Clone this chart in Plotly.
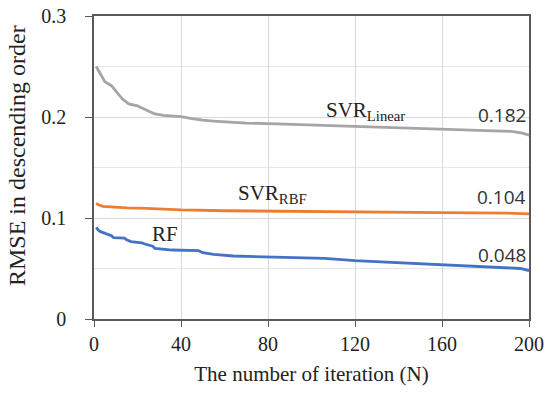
import plotly.graph_objects as go

# SVR Linear
x_lin = [1, 3, 5, 8, 10, 13, 16, 20, 22, 25, 28, 32, 36, 40, 45, 50, 55, 60, 64, 70, 84, 100, 120, 140, 160, 180, 192, 197, 199, 200]
y_lin = [0.250, 0.243, 0.235, 0.231, 0.226, 0.218, 0.213, 0.211, 0.209, 0.206, 0.203, 0.2015, 0.2010, 0.2003, 0.1985, 0.1968, 0.1960, 0.1952, 0.1944, 0.1940, 0.1932, 0.1922, 0.1910, 0.1895, 0.1880, 0.1868, 0.1858, 0.1840, 0.1830, 0.182]
# SVR RBF
x_rbf = [1, 2, 4, 8, 15, 24, 40, 60, 84, 120, 160, 190, 200]
y_rbf = [0.1146, 0.113, 0.1115, 0.1108, 0.1100, 0.1095, 0.1080, 0.1072, 0.1069, 0.1058, 0.1053, 0.1048, 0.104]
# RF
x_rf = [1, 2, 3, 5, 8, 9, 14, 15, 17, 22, 23, 27, 28, 36, 48, 50, 55, 64, 83, 100, 106, 120, 138, 160, 175, 191, 196, 200]
y_rf = [0.0908, 0.0880, 0.0865, 0.0850, 0.0825, 0.0805, 0.0800, 0.0785, 0.0766, 0.0755, 0.0745, 0.0720, 0.0700, 0.0683, 0.0678, 0.0657, 0.0640, 0.0624, 0.0611, 0.0605, 0.0600, 0.0577, 0.0560, 0.0535, 0.0523, 0.0512, 0.0500, 0.048]

x_ticks = [0, 40, 80, 120, 160, 200]
y_ticks = [0, 0.1, 0.2, 0.3]
y_tick_text = ["0", "0.1", "0.2", "0.3"]

fig = go.Figure()
fig.add_trace(go.Scatter(x=x_lin, y=y_lin, mode="lines", line=dict(color="#a5a5a5", width=2.8), showlegend=False))
fig.add_trace(go.Scatter(x=x_rbf, y=y_rbf, mode="lines", line=dict(color="#ed7d31", width=2.8), showlegend=False))
fig.add_trace(go.Scatter(x=x_rf, y=y_rf, mode="lines", line=dict(color="#4472c4", width=2.8), showlegend=False))

serif = "Liberation Serif"
sans = "Open Sans"
ann = [
    dict(x=125, y=0.2055, text="SVR<sub>Linear</sub>", font=dict(family=serif, size=21, color="#222"), xanchor="center", yanchor="middle"),
    dict(x=199.5, y=0.2015, text="0.182", font=dict(family=sans, size=19, color="#333"), xanchor="right", yanchor="middle"),
    dict(x=82, y=0.1235, text="SVR<sub>RBF</sub>", font=dict(family=serif, size=21, color="#222"), xanchor="center", yanchor="middle"),
    dict(x=199.5, y=0.121, text="0.104", font=dict(family=sans, size=19, color="#333"), xanchor="right", yanchor="middle"),
    dict(x=32.5, y=0.0845, text="RF", font=dict(family=serif, size=21, color="#222"), xanchor="center", yanchor="middle"),
    dict(x=199.5, y=0.0634, text="0.048", font=dict(family=sans, size=19, color="#333"), xanchor="right", yanchor="middle"),
]
for a in ann:
    a.update(showarrow=False, xref="x", yref="y")
# y-axis title
ann.append(dict(x=-0.177, y=0.538, xref="paper", yref="paper", text="RMSE in descending order",
                textangle=-90, showarrow=False, xanchor="center", yanchor="middle",
                font=dict(family=serif, size=24, color="#222")))

pad = "\u00a0\u00a0\u00a0"

fig.update_layout(
    width=550, height=393,
    margin=dict(l=94, r=21, t=16, b=74, autoexpand=False),
    paper_bgcolor="white", plot_bgcolor="white",
    annotations=ann,
    font=dict(family=serif, size=20, color="#222"),
)
fig.update_xaxes(
    range=[0, 200], tickvals=x_ticks, ticks="outside", ticklen=6, tickcolor="#595959",
    showgrid=True, gridcolor="#d9d9d9", gridwidth=1,
    showline=True, linecolor="#595959", linewidth=1.5, mirror=True,
    zeroline=False, ticklabeloverflow="allow",
    title=dict(text="The number of iteration (N)", font=dict(family=serif, size=21), standoff=13),
    tickfont=dict(family=serif, size=20),
)
fig.update_yaxes(
    range=[0, 0.3], tickvals=y_ticks, ticktext=[t + pad for t in y_tick_text], ticks="outside", ticklen=7, tickcolor="#595959",
    showgrid=True, gridcolor="#d9d9d9", gridwidth=1,
    minor=dict(dtick=0.05, showgrid=True, gridcolor="#e6e6e6", gridwidth=1, ticks=""),
    showline=True, linecolor="#595959", linewidth=1.5, mirror=True,
    zeroline=False,
    tickfont=dict(family=serif, size=20),
)
fig.write_html("out.html", config={"displayModeBar": False},
               post_script="document.body.style.margin='0';document.body.style.overflow='hidden';")
